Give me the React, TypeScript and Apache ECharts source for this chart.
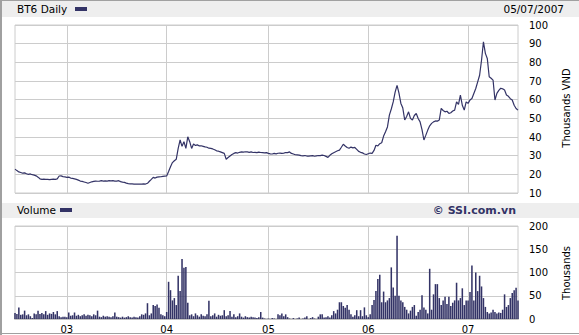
import React, { useEffect, useRef } from 'react';
import * as echarts from 'echarts';

// Weekly samples starting from this date (one value per week)
const START_DATE = '2002-06-28';
const STEP_DAYS = 7;

const TITLE = 'BT6 Daily';
const DATE_LABEL = '05/07/2007';
const VOLUME_TITLE = 'Volume';
const COPYRIGHT = '© SSI.com.vn';
const PRICE_AXIS_NAME = 'Thousands VND';
const VOLUME_AXIS_NAME = 'Thousands';

const PRICE_MIN = 10;
const PRICE_MAX = 100;
const PRICE_STEP = 10;
const VOLUME_MIN = 0;
const VOLUME_MAX = 200;
const VOLUME_STEP = 50;

// Closing price, thousands VND (weekly)
const priceValues = [
  22.8, 22.0, 21.3, 21.0, 20.6, 20.8, 20.3, 20.0, 20.2, 19.8,
  19.6, 19.2, 18.5, 17.6, 17.3, 17.4, 17.3, 17.3, 17.2, 17.3,
  17.4, 17.3, 17.6, 19.1, 19.2, 18.8, 18.6, 18.4, 18.5, 18.0,
  17.8, 17.6, 17.3, 16.9, 16.4, 16.2, 15.9, 15.6, 15.2, 15.6,
  16.0, 16.2, 16.4, 16.3, 16.4, 16.6, 16.4, 16.5, 16.4, 16.6,
  16.5, 16.6, 16.4, 16.4, 16.6, 16.1, 15.8, 15.7, 15.3, 15.0,
  14.9, 14.9, 14.8, 14.8, 14.8, 14.8, 14.8, 14.9, 14.8, 15.2,
  16.3, 17.3, 18.4, 18.0, 18.5, 18.6, 18.7, 18.9, 19.0, 19.1,
  21.5, 24.1, 26.3, 27.3, 28.1, 33.9, 38.4, 35.0, 37.5, 33.9,
  40.1, 37.5, 33.9, 36.2, 35.5, 35.8, 35.2, 35.3, 35.0, 34.7,
  34.5, 34.0, 33.9, 33.6, 33.2, 32.6, 32.4, 32.0, 31.6, 31.2,
  28.1, 29.0, 29.8, 30.6, 31.2, 31.6, 31.4, 31.8, 32.0, 31.9,
  32.1, 32.0, 31.8, 32.0, 31.7, 31.8, 31.6, 31.9, 31.7, 31.6,
  31.5, 31.6, 31.2, 31.0, 30.9, 31.2, 31.0, 31.3, 31.4, 31.2,
  31.4, 31.7, 31.6, 32.0, 31.2, 30.9, 30.5, 30.4, 30.3, 30.0,
  29.9, 30.1, 29.8, 29.8, 29.9, 30.0, 29.7, 29.9, 30.1, 30.0,
  30.3, 30.1, 29.6, 29.1, 30.2, 31.0, 31.6, 32.1, 32.6, 33.0,
  34.5, 36.1, 35.2, 34.4, 34.0, 34.6, 34.2, 34.4, 33.4, 32.3,
  31.8, 31.5, 30.9, 30.6, 31.0, 31.4, 31.2, 32.8, 35.6, 35.2,
  36.4, 36.9, 40.5, 42.8, 45.4, 51.7, 55.0, 58.8, 64.0, 67.7,
  63.5, 58.0, 55.5, 49.1, 51.0, 53.5, 50.0, 49.1, 51.5, 52.6,
  49.9, 48.1, 44.0, 38.4, 41.0, 43.7, 46.0, 47.3, 48.1, 48.6,
  48.5, 49.1, 55.3, 54.2, 53.5, 53.8, 52.6, 53.0, 53.9, 54.4,
  58.8, 57.5, 62.4, 57.0, 54.4, 58.8, 58.0, 59.8, 60.6, 63.3,
  66.0, 69.5, 73.1, 81.1, 91.0, 84.8, 82.1, 72.3, 71.5, 70.5,
  59.8, 63.4, 65.0, 66.1, 65.8, 65.2, 62.5, 61.8, 60.5, 59.8,
  57.0, 55.3, 54.4,
];

// Volume, thousands (weekly)
const volumeValues = [
  13, 11, 25, 9, 10, 18, 8, 10, 6, 2,
  12, 10, 18, 11, 13, 10, 17, 9, 12, 11,
  15, 10, 17, 6, 4, 5, 5, 4, 14, 7,
  8, 14, 7, 9, 6, 8, 10, 7, 9, 8,
  6, 10, 8, 18, 5, 4, 7, 5, 6, 5,
  4, 6, 14, 5, 4, 3, 5, 3, 4, 6,
  4, 3, 5, 4, 3, 6, 10, 9, 12, 34,
  8, 12, 30, 28, 31, 24, 10, 8, 6, 15,
  80, 62, 40, 45, 30, 93, 60, 129, 110, 112,
  35, 8, 10, 6, 12, 8, 5, 10, 7, 6,
  10, 39, 6, 8, 12, 5, 9, 7, 8, 19,
  6, 8, 17, 5, 10, 4, 6, 12, 5, 3,
  6, 4, 3, 5, 4, 3, 2, 4, 15, 3,
  1, 0, 1, 0, 2, 1, 0, 10, 8, 12,
  6, 10, 4, 1, 0, 2, 0, 1, 3, 0,
  1, 3, 6, 0, 2, 4, 1, 0, 5, 10,
  10, 3, 4, 6, 3, 8, 17, 12, 20, 36,
  36, 28, 24, 30, 20, 10, 5, 8, 19, 6,
  19, 6, 25, 8, 4, 10, 30, 41, 60, 86,
  95, 36, 59, 36, 40, 45, 111, 68, 50, 179,
  50, 40, 36, 26, 20, 12, 18, 26, 30, 7,
  15, 20, 51, 25, 20, 12, 108, 20, 53, 75,
  75, 45, 30, 40, 48, 32, 48, 28, 35, 40,
  78, 40, 45, 66, 30, 40, 40, 58, 115, 40,
  100, 60, 93, 70, 45, 26, 15, 12, 14, 20,
  15, 12, 14, 13, 20, 53, 26, 30, 45, 56,
  62, 67, 40,
];

function buildDates(n: number, start: string, stepDays: number): string[] {
  const base = new Date(start + 'T00:00:00Z').getTime();
  const out: string[] = [];
  for (let i = 0; i < n; i++) {
    out.push(new Date(base + i * stepDays * 86400000).toISOString().slice(0, 10));
  }
  return out;
}

const FONT = 'Verdana, "DejaVu Sans", sans-serif';
const NAVY = '#333366';
const GRID_COLOR = '#cccccc';

export default function App() {
  const ref = useRef<HTMLDivElement>(null);

  useEffect(() => {
    if (!ref.current) return;
    const chart = echarts.init(ref.current, null, { renderer: 'svg' });
    const dates = buildDates(priceValues.length, START_DATE, STEP_DAYS);
    const isYearStart = (i: number) =>
      i > 0 && dates[i].slice(0, 4) !== dates[i - 1].slice(0, 4);

    chart.setOption({
      animation: false,
      backgroundColor: '#ffffff',
      textStyle: { fontFamily: FONT },
      grid: [
        { left: 15, top: 25, width: 503, height: 168, show: true, borderColor: GRID_COLOR, borderWidth: 1 },
        { left: 15, top: 226, width: 503, height: 93, show: true, borderColor: GRID_COLOR, borderWidth: 1 },
      ],
      xAxis: [
        {
          type: 'category',
          gridIndex: 0,
          data: dates,
          boundaryGap: false,
          axisLine: { show: false },
          axisTick: { show: false },
          axisLabel: { show: false },
          splitLine: { show: true, interval: (i: number) => isYearStart(i), lineStyle: { color: GRID_COLOR, width: 1 } },
        },
        {
          type: 'category',
          gridIndex: 1,
          data: dates,
          boundaryGap: false,
          axisLine: { show: true, lineStyle: { color: '#c4c4c4', width: 2 } },
          axisTick: { show: false },
          axisLabel: {
            show: true,
            interval: (i: number) => isYearStart(i),
            formatter: (v: string) => v.slice(2, 4),
            color: '#000000',
            fontSize: 10,
            fontFamily: FONT,
            margin: 5,
          },
          splitLine: { show: true, interval: (i: number) => isYearStart(i), lineStyle: { color: GRID_COLOR, width: 1 } },
        },
      ],
      yAxis: [
        {
          type: 'value',
          gridIndex: 0,
          position: 'right',
          min: PRICE_MIN,
          max: PRICE_MAX,
          interval: PRICE_STEP,
          axisLine: { show: false },
          axisTick: { show: false },
          axisLabel: { color: '#000000', fontSize: 10, fontFamily: FONT, margin: 11 },
          splitLine: { show: true, lineStyle: { color: GRID_COLOR, width: 1 } },
        },
        {
          type: 'value',
          gridIndex: 1,
          position: 'right',
          min: VOLUME_MIN,
          max: VOLUME_MAX,
          interval: VOLUME_STEP,
          axisLine: { show: false },
          axisTick: { show: false },
          axisLabel: { color: '#000000', fontSize: 10, fontFamily: FONT, margin: 11 },
          splitLine: { show: true, lineStyle: { color: GRID_COLOR, width: 1 } },
        },
      ],
      series: [
        {
          type: 'line',
          xAxisIndex: 0,
          yAxisIndex: 0,
          data: priceValues,
          showSymbol: false,
          symbol: 'none',
          lineStyle: { color: NAVY, width: 1.2 },
          itemStyle: { color: NAVY },
        },
        {
          type: 'bar',
          xAxisIndex: 1,
          yAxisIndex: 1,
          data: volumeValues,
          barWidth: '80%',
          itemStyle: { color: NAVY },
        },
      ],
      graphic: [
        { type: 'rect', shape: { x: 1, y: 1, width: 578, height: 16 }, style: { fill: '#eeeeee' }, silent: true },
        { type: 'rect', shape: { x: 1, y: 203, width: 578, height: 15 }, style: { fill: '#eeeeee' }, silent: true },
        { type: 'line', shape: { x1: 1, y1: 0, x2: 1, y2: 335 }, style: { stroke: '#a0a0a0', lineWidth: 2 }, silent: true },
        { type: 'line', shape: { x1: 0, y1: 0.5, x2: 579, y2: 0.5 }, style: { stroke: '#a0a0a0', lineWidth: 1 }, silent: true },
        { type: 'line', shape: { x1: 0, y1: 333.5, x2: 579, y2: 333.5 }, style: { stroke: '#a0a0a0', lineWidth: 1 }, silent: true },
        {
          type: 'text', x: 17, y: 9,
          style: { text: TITLE, fill: '#000000', font: `10.5px ${FONT}`, textVerticalAlign: 'middle', verticalAlign: 'middle' },
        },
        { type: 'rect', shape: { x: 75, y: 7, width: 12, height: 4 }, style: { fill: NAVY } },
        {
          type: 'text', x: 564, y: 9,
          style: { text: DATE_LABEL, fill: '#000000', font: `10.5px ${FONT}`, align: 'right', verticalAlign: 'middle' },
        },
        {
          type: 'text', x: 17, y: 210,
          style: { text: VOLUME_TITLE, fill: '#000000', font: `10.5px ${FONT}`, verticalAlign: 'middle' },
        },
        { type: 'rect', shape: { x: 60, y: 208, width: 12, height: 4 }, style: { fill: NAVY } },
        {
          type: 'text', x: 516, y: 210,
          style: { text: COPYRIGHT, fill: NAVY, font: `bold 11px ${FONT}`, align: 'right', verticalAlign: 'middle' },
        },
        {
          type: 'text', x: 566, y: 108, rotation: Math.PI / 2,
          style: { text: PRICE_AXIS_NAME, fill: '#000000', font: `10px ${FONT}`, align: 'center', verticalAlign: 'middle' },
        },
        {
          type: 'text', x: 566, y: 273, rotation: Math.PI / 2,
          style: { text: VOLUME_AXIS_NAME, fill: '#000000', font: `10px ${FONT}`, align: 'center', verticalAlign: 'middle' },
        },
      ],
    });

    return () => chart.dispose();
  }, []);

  return (
    <div
      ref={ref}
      style={{ position: 'absolute', left: 0, top: 0, width: 579, height: 335, background: '#ffffff' }}
    />
  );
}
